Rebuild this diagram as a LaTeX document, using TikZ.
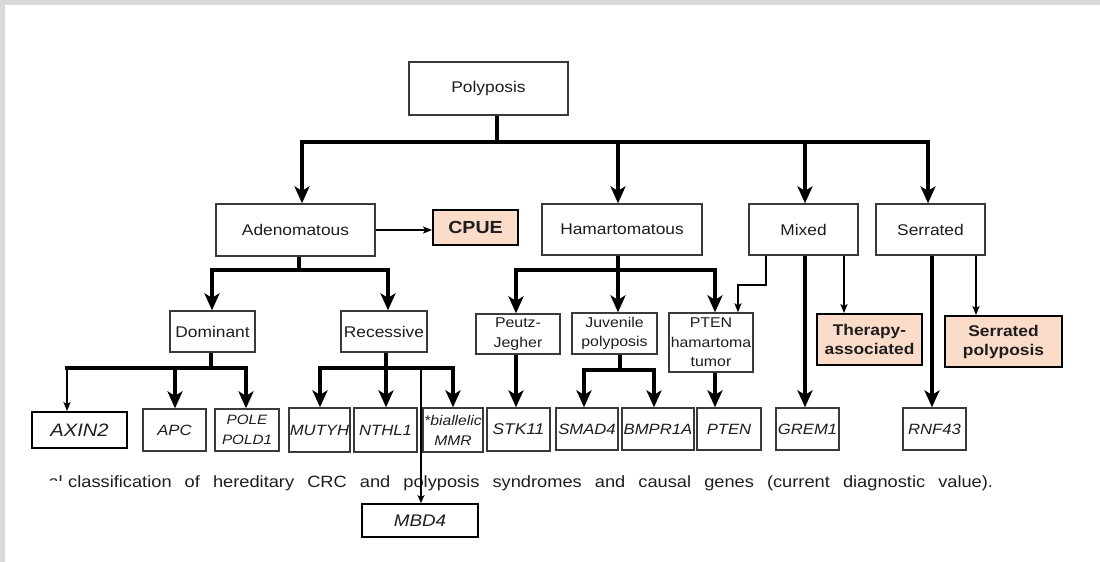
\documentclass[tikz,border=0pt]{standalone}
\usepackage{fontspec}
\setmainfont{Liberation Sans}[FakeStretch=1.12]
\usetikzlibrary{arrows.meta}
\definecolor{peach}{HTML}{FADCC8}
\definecolor{bordc}{HTML}{3A3A3A}
\definecolor{txtc}{HTML}{1E1E1E}
\definecolor{edgegray}{HTML}{D9D9D9}
\begin{document}
\begin{tikzpicture}[x=1pt,y=-1pt,
  box/.style={draw=bordc,line width=1.3pt,fill=white,inner sep=0pt,align=center,text=txtc,font=\fontsize{15.5}{19}\selectfont},
  smallbox/.style={box,font=\fontsize{14.2}{19.5}\selectfont},
  gene/.style={box,font=\fontsize{14.9}{20}\selectfont\itshape},
  biggene/.style={gene,draw=black,line width=1.8pt},
  hot/.style={box,fill=peach,draw=black,line width=1.8pt,font=\fontsize{15.5}{19}\selectfont\bfseries},
  thk/.style={line width=3.4pt,draw=black},
  thka/.style={thk,-{Stealth[length=17pt,width=15pt,inset=4.5pt]}},
  thn/.style={line width=1.8pt,draw=black,-{Stealth[length=9pt,width=7pt,inset=2pt]}},
  mba/.style={line width=2.8pt,draw=black,-{Stealth[length=8pt,width=7pt,inset=2pt]}},
]
\useasboundingbox (0,0) rectangle (1100,562);
\fill[white] (0,0) rectangle (1100,562);
\fill[edgegray] (0,0) rectangle (1100,5);
\fill[edgegray] (0,0) rectangle (5,562);

% level 0 and 1
\node[box,minimum width=159pt,minimum height=53pt] (poly) at (488.5,88.5) {Polyposis};
\node[box,minimum width=159pt,minimum height=52pt] (adeno) at (295.5,230) {Adenomatous};
\node[hot,minimum width=85pt,minimum height=35pt,font=\fontsize{17.5}{20}\selectfont\bfseries] (cpue) at (475.5,227.5) {CPUE};
\node[box,minimum width=160pt,minimum height=51pt] (hamar) at (622,229.5) {Hamartomatous};
\node[box,minimum width=109pt,minimum height=51pt] (mixed) at (803.5,229.5) {Mixed};
\node[box,minimum width=109pt,minimum height=51pt] (serr) at (930.5,229.5) {Serrated};

% level 2
\node[box,minimum width=85pt,minimum height=41pt] (dom) at (212.5,331.5) {Dominant};
\node[box,minimum width=86pt,minimum height=41pt] (rec) at (384,331.5) {Recessive};
\node[smallbox,minimum width=84pt,minimum height=40pt] (peutz) at (518,334) {Peutz-\\Jegher};
\node[smallbox,minimum width=85pt,minimum height=41pt] (juv) at (614.5,333.5) {Juvenile\\polyposis};
\node[smallbox,minimum width=84pt,minimum height=59pt] (ptenh) at (711,342.5) {PTEN\\hamartoma\\tumor};
\node[hot,minimum width=105pt,minimum height=51pt] (ther) at (869.5,339.5) {Therapy-\\associated};
\node[hot,minimum width=117pt,minimum height=51pt] (serp) at (1003.5,341.5) {Serrated\\polyposis};

% genes
\node[biggene,minimum width=95pt,minimum height=36pt,font=\fontsize{18}{20}\selectfont\itshape] (axin) at (79.5,430) {AXIN2};
\node[gene,minimum width=63pt,minimum height=42pt] (apc) at (174.5,430) {APC};
\node[gene,minimum width=64pt,minimum height=42pt,font=\fontsize{13.6}{20}\selectfont\itshape] (pole) at (247,430) {POLE\\POLD1};
\node[gene,minimum width=61pt,minimum height=44pt] (mutyh) at (319.5,430) {MUTYH};
\node[gene,minimum width=63pt,minimum height=44pt] (nthl) at (385.5,430) {NTHL1};
\node[gene,minimum width=60pt,minimum height=44pt,font=\fontsize{14}{20}\selectfont\itshape] (biall) at (453,430) {*biallelic\\MMR};
\node[gene,minimum width=63pt,minimum height=43pt,font=\fontsize{15.5}{20}\selectfont\itshape] (stk) at (518.5,429.5) {STK11};
\node[gene,minimum width=62pt,minimum height=42pt] (smad) at (587,429) {SMAD4};
\node[gene,minimum width=72pt,minimum height=42pt] (bmpr) at (658,429) {BMPR1A};
\node[gene,minimum width=64pt,minimum height=42pt] (pten) at (729,429) {PTEN};
\node[gene,minimum width=63pt,minimum height=42pt] (grem) at (807.5,429) {GREM1};
\node[gene,minimum width=63pt,minimum height=42pt] (rnf) at (934.5,429) {RNF43};

% caption
\begin{scope}
\clip (40,468) rectangle (64,480);
\node[anchor=base east,inner sep=0pt,font=\fontsize{16.3}{18}\selectfont,text=txtc] (capfrag) at (63,487) {al};
\end{scope}
\node[anchor=base west,inner sep=0pt,font=\fontsize{16.3}{18}\selectfont,text=txtc] (cap) at (68,487) {\makebox[925pt][s]{classification of hereditary CRC and polyposis syndromes and causal genes (current diagnostic value).}};

\node[biggene,minimum width=116pt,minimum height=33pt,font=\fontsize{16.8}{20}\selectfont\itshape] (mbd) at (420,520.5) {MBD4};

% connectors: polyposis
\coordinate (j0) at (497,142);
\coordinate (a0) at (302,142);
\coordinate (a1) at (618,142);
\coordinate (a2) at (805,142);
\coordinate (a3) at (928,142);
\draw[thk] (poly.south -| j0) -- (j0);
\draw[thk,line cap=rect] (a0) -- (a3);
\draw[thka] (a0) -- (a0 |- adeno.north);
\draw[thka] (a1) -- (a1 |- hamar.north);
\draw[thka] (a2) -- (a2 |- mixed.north);
\draw[thka] (a3) -- (a3 |- serr.north);

\draw[thn] (adeno.east) -- (adeno.east -| cpue.west);

% adenomatous
\coordinate (j1) at (299,270);
\coordinate (b0) at (212,270);
\coordinate (b1) at (388,270);
\draw[thk] (adeno.south -| j1) -- (j1);
\draw[thk,line cap=rect] (b0) -- (b1);
\draw[thka] (b0) -- (b0 |- dom.north);
\draw[thka] (b1) -- (b1 |- rec.north);

% dominant
\coordinate (j2) at (211,368);
\coordinate (c0) at (67,368);
\coordinate (c1) at (175,368);
\coordinate (c2) at (246,368);
\draw[thk] (dom.south -| j2) -- (j2);
\draw[thk,line cap=rect] (c0) -- (c2);
\draw[thn] (c0) -- (c0 |- axin.north);
\draw[thka] (c1) -- (c1 |- apc.north);
\draw[thka] (c2) -- (c2 |- pole.north);

% recessive
\coordinate (j3) at (386,368);
\coordinate (d0) at (320,368);
\coordinate (d1) at (386,368);
\coordinate (d2) at (453,368);
\coordinate (d3) at (421,368);
\draw[thk] (rec.south -| j3) -- (j3);
\draw[thk,line cap=rect] (d0) -- (d2);
\draw[thka] (d0) -- (d0 |- mutyh.north);
\draw[thka] (d1) -- (d1 |- nthl.north);
\draw[thka] (d2) -- (d2 |- biall.north);
\draw[mba] (d3) -- (d3 |- mbd.north);

% hamartomatous
\coordinate (j4) at (618,270);
\coordinate (e0) at (516,270);
\coordinate (e1) at (618,270);
\coordinate (e2) at (715,270);
\draw[thk] (hamar.south -| j4) -- (j4);
\draw[thk,line cap=rect] (e0) -- (e2);
\draw[thka] (e0) -- (e0 |- peutz.north);
\draw[thka] (e1) -- (e1 |- juv.north);
\draw[thka] (e2) -- (e2 |- ptenh.north);
\draw[thka] (e0 |- peutz.south) -- (e0 |- stk.north);

% juvenile
\coordinate (j5) at (620,370);
\coordinate (f0) at (584,370);
\coordinate (f1) at (654,370);
\draw[thk] (juv.south -| j5) -- (j5);
\draw[thk,line cap=rect] (f0) -- (f1);
\draw[thka] (f0) -- (f0 |- smad.north);
\draw[thka] (f1) -- (f1 |- bmpr.north);

% pten hamartoma
\draw[thka] (e2 |- ptenh.south) -- (e2 |- pten.north);

% mixed
\coordinate (m0) at (766,285);
\coordinate (m1) at (738,285);
\coordinate (m2) at (805,255);
\coordinate (m3) at (844,255);
\draw[thn] (mixed.south -| m0) -- (m0) -- (m1) -- (m1 |- ptenh.north);
\draw[thka] (mixed.south -| m2) -- (m2 |- grem.north);
\draw[thn] (mixed.south -| m3) -- (m3 |- ther.north);

% serrated
\coordinate (s0) at (932,255);
\coordinate (s1) at (976,255);
\draw[thka] (serr.south -| s0) -- (s0 |- rnf.north);
\draw[thn] (serr.south -| s1) -- (s1 |- serp.north);
\end{tikzpicture}
\end{document}
